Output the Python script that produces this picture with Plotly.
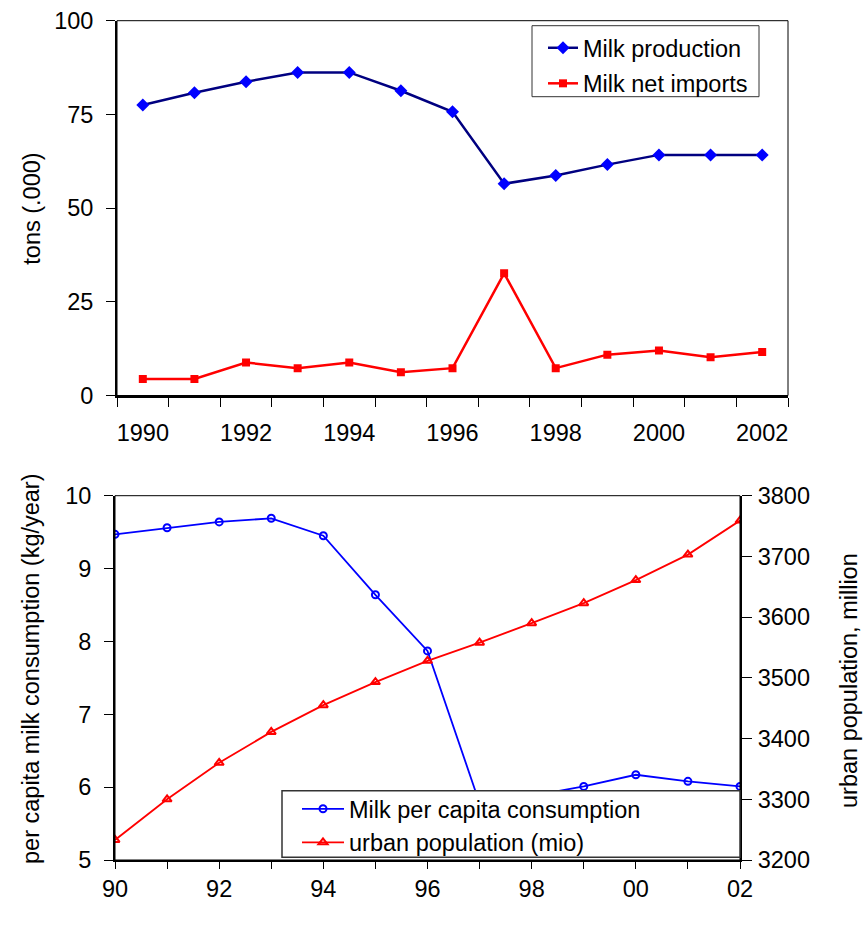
import plotly.graph_objects as go

W, H = 864, 939

# ---- data: top chart ----
years_top = [1990, 1991, 1992, 1993, 1994, 1995, 1996, 1997, 1998, 1999, 2000, 2001, 2002]
milk_production = [77.5, 80.8, 83.7, 86.2, 86.2, 81.3, 75.7, 56.5, 58.7, 61.6, 64.2, 64.2, 64.2]
milk_net_imports = [4.4, 4.4, 8.8, 7.3, 8.8, 6.2, 7.3, 32.6, 7.3, 10.9, 12.0, 10.2, 11.6]
top_tick_years = [1990, 1992, 1994, 1996, 1998, 2000, 2002]
top_yticks = [0, 25, 50, 75, 100]

# ---- data: bottom chart ----
years_bot = [1990, 1991, 1992, 1993, 1994, 1995, 1996, 1997, 1998, 1999, 2000, 2001, 2002]
milk_per_capita = [9.47, 9.56, 9.64, 9.69, 9.45, 8.64, 7.87, 5.78, 5.88, 6.01, 6.17, 6.08, 6.01]
urban_population = [3233, 3300, 3360, 3411, 3455, 3493, 3528, 3558, 3590, 3623, 3661, 3703, 3759]
bot_tick_labels = ["90", "", "92", "", "94", "", "96", "", "98", "", "00", "", "02"]
bot_yticks_left = [5, 6, 7, 8, 9, 10]
bot_yticks_right = [3200, 3300, 3400, 3500, 3600, 3700, 3800]

FONT = "Liberation Sans, Arial, sans-serif"
FS = 23.5


def px_x(v):
    return v / W


def px_y(v):
    return 1 - v / H


# plot area pixel boxes
T_L, T_R, T_T, T_B = 117, 788, 20.7, 395.5
B_L, B_R, B_T, B_B = 115, 740, 495.7, 860

fig = go.Figure()

fig.add_trace(go.Scatter(
    x=years_top, y=milk_production, name="Milk production",
    mode="lines+markers", line=dict(color="#000080", width=2.5),
    marker=dict(symbol="diamond", size=10, color="#0000FF"),
    xaxis="x", yaxis="y", legend="legend", legendgroup="a"))
fig.add_trace(go.Scatter(
    x=years_top, y=milk_net_imports, name="Milk net imports",
    mode="lines+markers", line=dict(color="#FF0000", width=2.5),
    marker=dict(symbol="square", size=8, color="#FF0000"),
    xaxis="x", yaxis="y", legend="legend", legendgroup="b"))

fig.add_trace(go.Scatter(
    x=years_bot, y=milk_per_capita, name="Milk per capita consumption",
    mode="lines+markers", line=dict(color="#0000FF", width=1.8),
    marker=dict(symbol="circle-open", size=7, color="#0000FF", line=dict(width=2)),
    xaxis="x2", yaxis="y2", legend="legend2"))
fig.add_trace(go.Scatter(
    x=years_bot, y=urban_population, name="urban population (mio)",
    mode="lines+markers", line=dict(color="#FF0000", width=1.8),
    marker=dict(symbol="triangle-up-open", size=8, color="#FF0000", line=dict(width=2)),
    xaxis="x2", yaxis="y3", legend="legend2"))

tickfont = dict(family=FONT, size=FS, color="black")

fig.update_layout(
    width=W, height=H,
    margin=dict(l=0, r=0, t=0, b=0, autoexpand=False),
    paper_bgcolor="white", plot_bgcolor="white",
    font=dict(family=FONT, size=FS, color="black"),
    xaxis=dict(
        domain=[px_x(T_L), px_x(T_R)], anchor="y", automargin=False,
        range=[1989.5, 2002.5], tickmode="array", tickvals=top_tick_years,
        ticktext=[str(v) for v in top_tick_years],
        ticks="outside", ticklen=9, tickcolor="rgba(0,0,0,0)",
        minor=dict(tickmode="array", tickvals=[y - 0.5 for y in years_top] + [2002.5],
                   ticks="outside", ticklen=9, tickcolor="black", tickwidth=1.2, showgrid=False),
        showline=True, linecolor="black", linewidth=2, showgrid=False, zeroline=False,
        tickfont=tickfont, ticklabelstandoff=6),
    yaxis=dict(
        domain=[px_y(T_B), px_y(T_T)], anchor="x", automargin=False,
        range=[0, 100], tickmode="array", tickvals=top_yticks,
        ticks="outside", ticklen=9, tickcolor="black", tickwidth=1.2,
        showline=True, linecolor="black", linewidth=1.8, showgrid=False, zeroline=False,
        tickfont=tickfont, ticklabelstandoff=8),
    xaxis2=dict(
        domain=[px_x(B_L), px_x(B_R)], anchor="y2", automargin=False,
        range=[1990, 2002], tickmode="array", tickvals=years_bot, ticktext=bot_tick_labels,
        ticks="outside", ticklen=7, tickcolor="black", tickwidth=1.2,
        showline=True, linecolor="black", linewidth=2, showgrid=False, zeroline=False,
        tickfont=tickfont, ticklabelstandoff=0),
    yaxis2=dict(
        domain=[px_y(B_B), px_y(B_T)], anchor="x2", automargin=False,
        range=[5, 10], tickmode="array", tickvals=bot_yticks_left,
        ticks="outside", ticklen=9, tickcolor="black", tickwidth=1.2,
        showline=True, linecolor="black", linewidth=2, showgrid=False, zeroline=False,
        tickfont=tickfont, ticklabelstandoff=8),
    yaxis3=dict(
        overlaying="y2", side="right", anchor="x2", automargin=False,
        range=[3200, 3800], tickmode="array", tickvals=bot_yticks_right,
        ticks="outside", ticklen=10, tickcolor="black", tickwidth=1.2,
        showline=True, linecolor="black", linewidth=2, showgrid=False, zeroline=False,
        tickfont=tickfont, ticklabelstandoff=1),
    legend=dict(
        x=px_x(543), y=px_y(26), xanchor="left", yanchor="top",
        bgcolor="rgba(0,0,0,0)", borderwidth=0, font=dict(family=FONT, size=FS),
        traceorder="grouped", tracegroupgap=2, itemwidth=30),
    legend2=dict(
        x=px_x(297), y=px_y(787), xanchor="left", yanchor="top",
        bgcolor="rgba(0,0,0,0)", borderwidth=0, font=dict(family=FONT, size=FS),
        itemwidth=42),
    shapes=[
        # thin frame of top plot
        dict(type="rect", xref="paper", yref="paper",
             x0=px_x(T_L), x1=px_x(T_R), y0=px_y(T_B), y1=px_y(T_T),
             line=dict(color="black", width=1), layer="above"),
        # thin frame of bottom plot
        dict(type="rect", xref="paper", yref="paper",
             x0=px_x(B_L), x1=px_x(B_R), y0=px_y(B_B), y1=px_y(B_T),
             line=dict(color="black", width=1), layer="above"),
        # legend boxes
        dict(type="rect", xref="paper", yref="paper",
             x0=px_x(532), x1=px_x(759), y0=px_y(96.7), y1=px_y(25.7),
             line=dict(color="#333333", width=1), fillcolor="white", layer="above"),
        dict(type="rect", xref="paper", yref="paper",
             x0=px_x(282), x1=px_x(740), y0=px_y(857.3), y1=px_y(790.7),
             line=dict(color="#333333", width=1.5), fillcolor="white", layer="above"),
    ],
    annotations=[
        dict(text="tons (.000)", xref="paper", yref="paper", x=px_x(32), y=px_y(208.7),
             textangle=-90, showarrow=False, font=dict(family=FONT, size=FS),
             xanchor="center", yanchor="middle"),
        dict(text="per capita milk consumption (kg/year)", xref="paper", yref="paper",
             x=px_x(31), y=px_y(669), textangle=-90, showarrow=False,
             font=dict(family=FONT, size=FS), xanchor="center", yanchor="middle"),
        dict(text="urban population, million", xref="paper", yref="paper",
             x=px_x(849), y=px_y(681), textangle=-90, showarrow=False,
             font=dict(family=FONT, size=FS), xanchor="center", yanchor="middle"),
    ],
    showlegend=True,
)

fig.write_html("out.html")
